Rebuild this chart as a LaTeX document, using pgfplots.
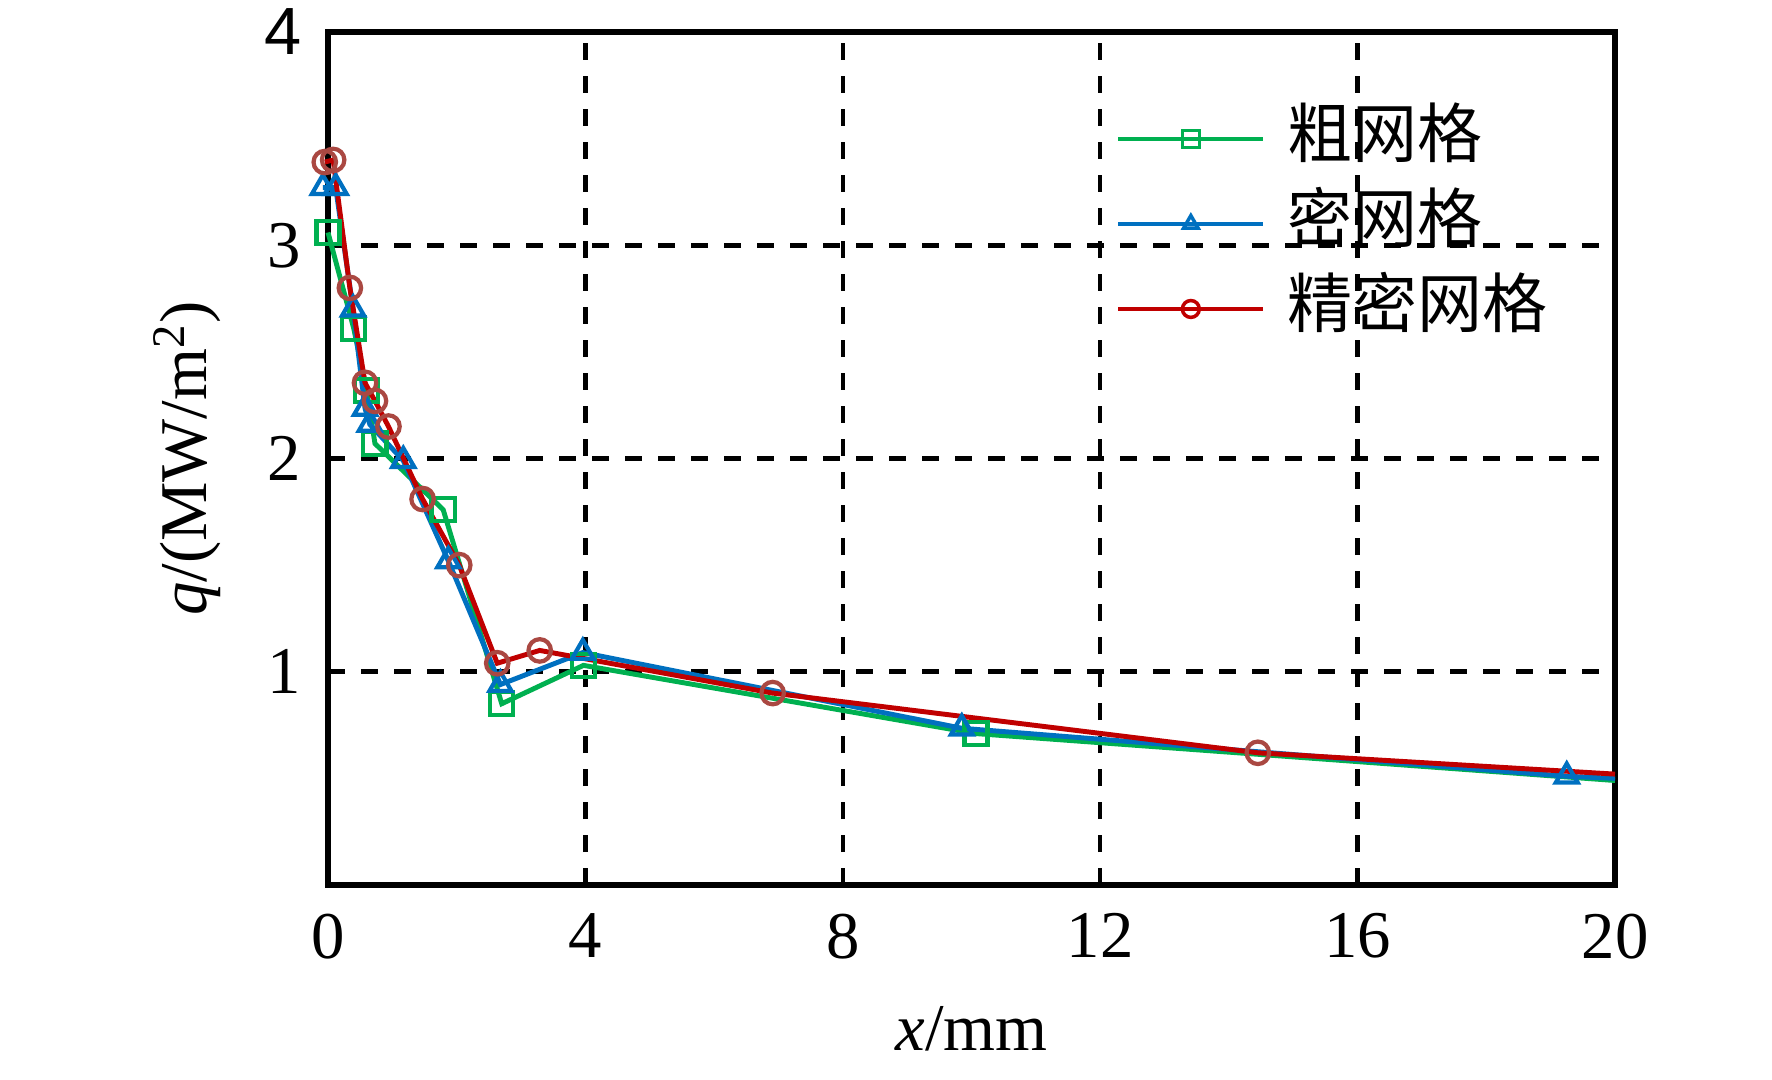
\documentclass[border=0pt]{standalone}
\usepackage{pgfplots}
\pgfplotsset{compat=1.18}
\usepackage{fontspec}
\setmainfont{Liberation Serif}
\newfontfamily\cjk{Noto Sans CJK SC}
\newfontfamily\arialfont{Liberation Sans}
\definecolor{cgreen}{RGB}{0,176,80}
\definecolor{cblue}{RGB}{0,112,192}
\definecolor{cred}{RGB}{192,0,0}
\definecolor{cmark}{RGB}{170,72,66}
\begin{document}
\fontsize{19}{23}\selectfont
\begin{tikzpicture}
\begin{axis}[
  scale only axis,
  width=12.87cm, height=8.53cm,
  xmin=0, xmax=20, ymin=0, ymax=4,
  clip=false,
  xtick={0,4,8,12,16,20},
  ytick={1,2,3,4},
  yticklabels={1,2,3,{\arialfont 4}},
  /pgf/number format/assume math mode=true,
  major tick length=0pt,
  axis line style={line width=1.6pt, black},
  grid=major,
  major grid style={line width=1.3pt, black, dash pattern=on 0.17cm off 0.16cm},
  tick label style={font=\fontsize{19}{23}\selectfont},
  xticklabel style={anchor=north, inner sep=0pt, yshift=-0.28cm},
  yticklabel style={anchor=east, inner sep=0pt, xshift=-0.26cm},
  every axis x label/.style={at={(axis description cs:0.5,-0.1946)}, anchor=base},
  every axis y label/.style={at={(axis description cs:-0.1096,0.5)}, rotate=90, anchor=center},
  xlabel={\textit{x}/mm},
  ylabel={\textit{q}/(MW/m\textsuperscript{2})},
  label style={font=\fontsize{19}{23}\selectfont},
  legend cell align=left,
  legend style={draw=none, fill=none, at={(axis description cs:0.604,0.92)}, anchor=north west,
    font=\fontsize{18.5}{22}\selectfont\cjk, row sep=0.23cm,
    nodes={inner xsep=0.22cm, inner ysep=0pt, text height=0.5cm, text depth=0.12cm}},
  legend image code/.code={
    \draw[#1, mark=none, line width=1.0pt] (0cm,0cm) -- (1.45cm,0cm);
    \draw[#1, only marks, mark size=2.4pt, mark options={line width=1.0pt}] plot coordinates {(0.725cm,0cm)};
  },
]
\addplot[color=cgreen, line width=1.4pt, mark=square, mark size=3.3pt,
  mark options={fill=white, draw=cgreen, line width=1.2pt},
  mark indices={1,2,3,4,5,6,7,8}]
  coordinates {(0,3.06)(0.40,2.61)(0.60,2.32)(0.73,2.07)(1.79,1.76)(2.70,0.85)(3.97,1.03)(10.07,0.71)(20,0.49)};
\addlegendentry{粗网格}
\addplot[color=cblue, line width=1.4pt, mark=triangle, mark size=3.6pt,
  mark options={fill=white, draw=cblue, line width=1.2pt},
  mark indices={1,2,3,4,5,6,7,8,9,10,11}]
  coordinates {(-0.08,3.27)(0.12,3.27)(0.39,2.70)(0.575,2.235)(0.65,2.16)(1.17,1.99)(1.87,1.52)(2.68,0.94)(3.96,1.09)(9.85,0.735)(19.25,0.51)(20,0.50)};
\addlegendentry{密网格}
\addplot[color=cred, line width=1.4pt, mark=o, mark size=3.2pt,
  mark options={fill=white, draw=cmark, line width=1.2pt},
  mark indices={1,2,3,4,5,6,7,8,9,10,11,12}]
  coordinates {(-0.05,3.39)(0.08,3.40)(0.34,2.80)(0.575,2.355)(0.73,2.27)(0.94,2.15)(1.47,1.81)(2.04,1.50)(2.63,1.04)(3.29,1.10)(6.91,0.90)(14.45,0.62)(20,0.52)};
\addlegendentry{精密网格}
\coordinate (bl) at (rel axis cs:0,0);
\coordinate (tr) at (rel axis cs:1,1);
\end{axis}
\pgfresetboundingbox
\path ([shift={(-3.28cm,-1.94cm)}]bl) rectangle ([shift={(1.57cm,0.32cm)}]tr);
\end{tikzpicture}
\end{document}
